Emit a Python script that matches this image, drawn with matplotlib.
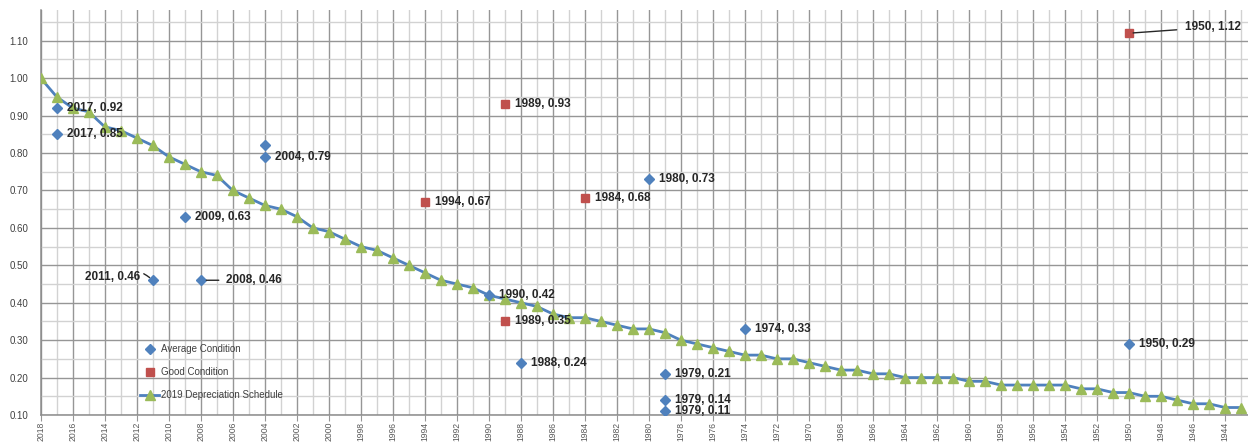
import numpy as np
import matplotlib
matplotlib.use("Agg")
import matplotlib.pyplot as plt
from matplotlib.ticker import MultipleLocator

plt.rcParams['font.family'] = ['Liberation Sans', 'DejaVu Sans']

# 2019 depreciation schedule, 2018 -> 1943
sched_years = list(range(2018, 1942, -1))
sched_values = [1.00, 0.95, 0.92, 0.91, 0.87, 0.86, 0.84, 0.82, 0.79, 0.77,
                0.75, 0.74, 0.70, 0.68, 0.66, 0.65, 0.63, 0.60, 0.59, 0.57,
                0.55, 0.54, 0.52, 0.50, 0.48, 0.46, 0.45, 0.44, 0.42, 0.41,
                0.40, 0.39, 0.37, 0.36, 0.36, 0.35, 0.34, 0.33, 0.33, 0.32,
                0.30, 0.29, 0.28, 0.27, 0.26, 0.26, 0.25, 0.25, 0.24, 0.23,
                0.22, 0.22, 0.21, 0.21, 0.20, 0.20, 0.20, 0.20, 0.19, 0.19,
                0.18, 0.18, 0.18, 0.18, 0.18, 0.17, 0.17, 0.16, 0.16, 0.15,
                0.15, 0.14, 0.13, 0.13, 0.12, 0.12]

# sales in average condition
avg_years = [2017, 2017, 2004, 2004, 2009, 2011, 2008, 1990, 1988, 1980, 1974,
             1979, 1979, 1979, 1950]
avg_values = [0.92, 0.85, 0.82, 0.79, 0.63, 0.46, 0.46, 0.42, 0.24, 0.73, 0.33,
              0.21, 0.14, 0.11, 0.29]

# sales in good condition
good_years = [1994, 1989, 1989, 1984, 1950]
good_values = [0.67, 0.93, 0.35, 0.68, 1.12]

BLUE = '#4F81BD'
RED = '#C0504D'
GREEN = '#9BBB59'
TXT = '#262626'

W, H = 1248, 443
fig = plt.figure(figsize=(W / 100, H / 100), dpi=100)
left_px, bottom_px, top_px = 40.7, 28, 10
ax = fig.add_axes([left_px / W, bottom_px / H, 1 - left_px / W, (H - bottom_px - top_px) / H])

px_per_year = 16.004
ax.set_xlim(2018, 2018 - (W - left_px) / px_per_year)
ax.set_ylim(0.10, 1.182)

# grid
ax.xaxis.set_major_locator(MultipleLocator(2))
ax.xaxis.set_minor_locator(MultipleLocator(1))
ax.yaxis.set_major_locator(MultipleLocator(0.10))
ax.yaxis.set_minor_locator(MultipleLocator(0.05))
ax.grid(which='major', color='#969696', lw=1.0)
ax.grid(which='minor', color='#d2d2d2', lw=1.0)
ax.set_axisbelow(True)

for s in ['top', 'right']:
    ax.spines[s].set_visible(False)
for s in ['left', 'bottom']:
    ax.spines[s].set_color('#8c8c8c')
    ax.spines[s].set_linewidth(1.1)

ax.tick_params(axis='x', which='major', labelsize=6.2, labelcolor='#595959',
               rotation=90, length=4, color='#969696', pad=1)
ax.tick_params(axis='x', which='minor', length=0)
ax.tick_params(axis='y', which='major', labelsize=7, labelcolor='#404040',
               length=0, pad=9)
ax.tick_params(axis='y', which='minor', length=0)
ax.xaxis.set_major_formatter(plt.FuncFormatter(lambda v, p: f"{int(round(v))}"))
ax.yaxis.set_major_formatter(plt.FuncFormatter(lambda v, p: f"{v:.2f}"))

# series
ax.plot(sched_years, sched_values, color=BLUE, lw=2, marker='^', ms=7,
        mfc=GREEN, mec=GREEN, label='2019 Depreciation Schedule', zorder=3)
ax.plot(avg_years, avg_values, ls='none', marker='D', ms=5, color=BLUE,
        label='Average Condition', zorder=4)
ax.plot(good_years, good_values, ls='none', marker='s', ms=5.5, color=RED,
        label='Good Condition', zorder=4)

lab_kw = dict(fontsize=8.5, fontweight='bold', color=TXT, va='center',
              textcoords='offset pixels', zorder=5)

for x, y in zip(avg_years + good_years, avg_values + good_values):
    text = f"{x}, {y:.2f}"
    if (x, y) == (2004, 0.82):
        continue
    if (x, y) == (2011, 0.46):
        ax.annotate(text, (x, y), xytext=(-13, 3), ha='right',
                    arrowprops=dict(arrowstyle='-', color=TXT, lw=1,
                                    connectionstyle='arc3,rad=-0.4',
                                    shrinkA=1, shrinkB=3), **lab_kw)
    elif (x, y) == (2008, 0.46):
        ax.annotate(text, (x, y), xytext=(25, 0), ha='left',
                    arrowprops=dict(arrowstyle='-', color=TXT, lw=1,
                                    shrinkA=3, shrinkB=4), **lab_kw)
    elif (x, y) == (1950, 1.12):
        ax.annotate(text, (x, y), xytext=(56, 6), ha='left',
                    arrowprops=dict(arrowstyle='-', color=TXT, lw=1,
                                    shrinkA=4, shrinkB=3), **lab_kw)
    else:
        ax.annotate(text, (x, y), xytext=(10, 0), ha='left', **lab_kw)

# legend
handles, labels = ax.get_legend_handles_labels()
order = [1, 2, 0]
leg = ax.legend([handles[i] for i in order], [labels[i] for i in order],
                loc='upper left', bbox_to_anchor=((140 - left_px) / (W - left_px), (415 - 344) / 405),
                frameon=False, fontsize=7, handlelength=2, handletextpad=0.2,
                labelspacing=1.35, borderpad=0, borderaxespad=0)
for t in leg.get_texts():
    t.set_color('#404040')

fig.savefig('out.png', dpi=100)
